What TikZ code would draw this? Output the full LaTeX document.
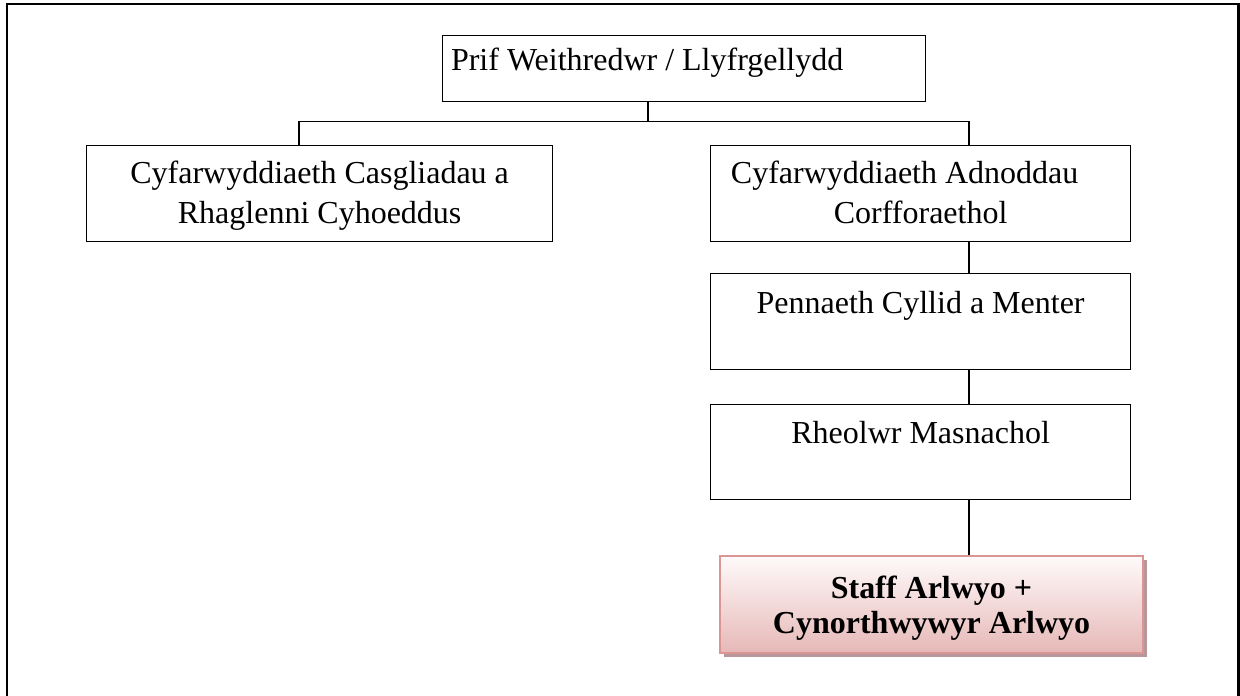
\documentclass[tikz,border=0pt]{standalone}
\usepackage{fontspec}
\setmainfont{Liberation Serif}
\usetikzlibrary{shadows}
\definecolor{pinkborder}{HTML}{D99694}
\definecolor{pinktop}{HTML}{FFFAFA}
\definecolor{pinkbot}{HTML}{E6B8B7}
\definecolor{shadowc}{HTML}{B8979A}
\newcommand\btext[4]{\parbox[t][#2][t]{#1}{\centering\rule{0pt}{#3}#4\par}}
\tikzset{
  orgbox/.style={draw, line width=0.65pt, inner sep=0pt, anchor=north west,
    font=\fontsize{16}{20}\selectfont},
  staffbox/.style={draw=pinkborder, line width=1.1pt, inner sep=0pt, anchor=north west,
    top color=pinktop, bottom color=pinkbot,
    drop shadow={shadow xshift=1.8pt, shadow yshift=-1.8pt, fill=shadowc, opacity=1},
    font=\fontsize{16}{17.5}\selectfont\bfseries},
  link/.style={line width=0.65pt},
  frame/.style={line width=1.1pt}
}
\begin{document}
\begin{tikzpicture}[x=0.5pt,y=-0.5pt]
\useasboundingbox (0,0) rectangle (1240,695);
\fill[white] (0,0) rectangle (1240,695);
\draw[frame] (7,696) -- (7,4) -- (1238.5,4) -- (1238.5,696);

\node[orgbox] (top) at (442,35) {\btext{241.5pt}{33pt}{17.5pt}{Prif Weithredwr / Llyfrgellydd\hspace*{37pt}}};
\node[orgbox] (left) at (86,145) {\btext{233pt}{48pt}{19pt}{Cyfarwyddiaeth Casgliadau a\\Rhaglenni Cyhoeddus}};
\node[orgbox] (right) at (710,145) {\btext{210pt}{48pt}{19pt}{Cyfarwyddiaeth Adnoddau\hspace*{16pt}\mbox{}\\Corfforaethol}};
\node[orgbox] (b3) at (710,273) {\btext{210pt}{48pt}{20pt}{Pennaeth Cyllid a Menter}};
\node[orgbox] (b4) at (710,404) {\btext{210pt}{47.5pt}{19.5pt}{Rheolwr Masnachol}};
\node[staffbox] (staff) at (719,555) {\btext{211.5pt}{48.5pt}{21pt}{Staff Arlwyo +\\Cynorthwywyr Arlwyo}};

\coordinate (j) at (648,121.5);
\coordinate (jl) at (299,121.5);
\coordinate (jr) at (969,121.5);

\draw[link] (top.south -| j) -- (j);
\draw[link] (jl) -- (jr);
\draw[link] (jl) -- (jl |- left.north);
\draw[link] (jr) -- (jr |- right.north);
\draw[link] (jr |- right.south) -- (jr |- b3.north);
\draw[link] (jr |- b3.south) -- (jr |- b4.north);
\draw[link] (jr |- b4.south) -- (jr |- staff.north);
\end{tikzpicture}
\end{document}
